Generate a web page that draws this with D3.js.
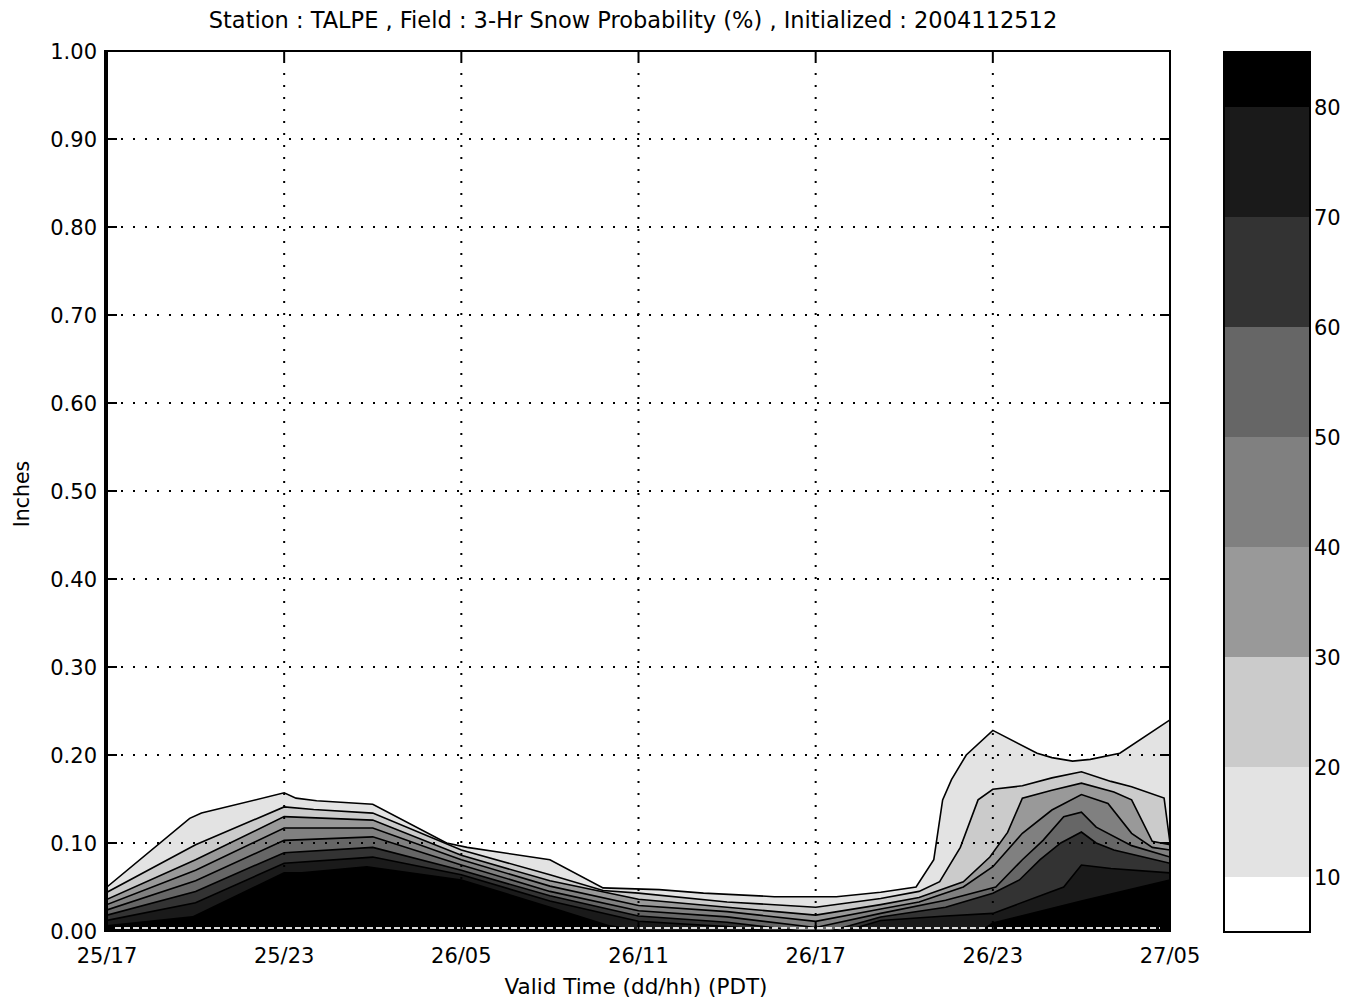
<!DOCTYPE html>
<html><head><meta charset="utf-8">
<script src="https://cdn.jsdelivr.net/npm/d3@7"></script>
<style>body{margin:0;background:#fff}svg{display:block}</style>
</head><body>
<svg id="c" width="1358" height="1000"></svg>
<script>
// ---- data ----
const titleText = "Station : TALPE , Field : 3-Hr Snow Probability (%) , Initialized : 2004112512";
const xTickHours = [0, 6, 12, 18, 24, 30, 36];
const xTickLabels = ["25/17", "25/23", "26/05", "26/11", "26/17", "26/23", "27/05"];
const yTicks = [0, 0.1, 0.2, 0.3, 0.4, 0.5, 0.6, 0.7, 0.8, 0.9, 1.0];
const levels = [10, 20, 30, 40, 50, 60, 70, 80];
const bandColors = ["#ffffff", "#e3e3e3", "#cbcbcb", "#999999", "#808080", "#666666", "#333333", "#1a1a1a", "#000000"];

// contour lines: [hours since 25/17, inches]
const p10 = [[0,.050],[2.8,.128],[3.2,.134],[6,.157],[6.4,.151],[7.1,.148],[9,.144],[11.5,.100],[12.2,.095],[15,.081],[16.8,.049],[18.7,.047],[20.2,.043],[22.6,.039],[24.7,.039],[26.2,.044],[27.4,.050],[28,.081],[28.3,.149],[28.6,.172],[29.1,.200],[30,.228],[31.5,.202],[32,.197],[32.7,.193],[33.3,.195],[34.3,.202],[36,.240]];
const p20 = [[0,.044],[3,.098],[6,.141],[7,.138],[9,.134],[12,.092],[15,.064],[16.8,.046],[18,.043],[21,.033],[24,.027],[26.2,.037],[27.5,.045],[28.2,.056],[28.9,.095],[29.5,.149],[30,.161],[31,.165],[32,.174],[33,.181],[34,.170],[34.7,.164],[35.8,.151],[36,.100]];
const p30 = [[0,.036],[3,.081],[6,.130],[9,.126],[12,.086],[15,.057],[18,.036],[21,.027],[24,.018],[26.2,.030],[27.5,.038],[29,.056],[29.9,.084],[30.5,.112],[31,.151],[32,.160],[33,.168],[34.1,.158],[34.7,.149],[35.4,.102],[36,.098]];
const p40 = [[0,.030],[3,.069],[6,.117],[9,.117],[12,.081],[15,.051],[18,.029],[21,.022],[24,.011],[26.2,.025],[27.5,.033],[29,.050],[30,.073],[31,.111],[32,.1375],[33,.155],[33.9,.145],[34.7,.111],[35.4,.095],[36,.092]];
const p50 = [[0,.024],[3,.057],[6,.103],[9,.107],[12,.075],[15,.045],[18,.023],[21,.016],[24,.004],[26.2,.020],[28.4,.035],[30.1,.050],[31,.081],[31.7,.103],[32.4,.130],[33,.135],[33.5,.118],[34.7,.097],[36,.084]];
const p60 = [[0,.018],[3,.045],[6,.089],[9,.095],[12,.069],[15,.040],[18,.017],[21,.010],[23.5,0],[24.5,0],[26.2,.016],[28.4,.027],[30,.043],[30.9,.058],[31.6,.081],[32.3,.100],[33,.1125],[33.5,.100],[34.1,.092],[36,.077]];
const p70 = [[0,.012],[3,.032],[6,.077],[9,.084],[12,.064],[15,.034],[18,.011],[21,.005],[22.5,0],[25,0],[26.2,.012],[28.4,.017],[30,.020],[32.4,.050],[33,.075],[34,.071],[36,.066]];
const p80 = [[0,.006],[2.9,.016],[6,.066],[6.6,.066],[8.8,.073],[12,.058],[15,.027],[17,.006],[18.2,0],[29.6,0],[30,.009],[33,.034],[36,.058]];
const contourLines = [p10, p20, p30, p40, p50, p60, p70, p80];

// ---- layout ----
const L = 107, R = 1170, T = 51, B = 931;
const svg = d3.select("#c");
const x = d3.scaleLinear([0, 36], [L, R]);
const y = d3.scaleLinear([0, 1], [B, T]);
const FONT = "DejaVu Sans";

svg.append("defs").append("clipPath").attr("id", "clip")
  .append("rect").attr("x", L).attr("y", T).attr("width", R - L).attr("height", B - T);

const plot = svg.append("g").attr("clip-path", "url(#clip)");
const area = d3.area().x(d => x(d[0])).y0(y(0)).y1(d => y(d[1]));
const line = d3.line().x(d => x(d[0])).y(d => y(d[1]));

contourLines.forEach((pts, i) => {
  plot.append("path").attr("d", area(pts)).attr("fill", bandColors[i + 1]);
});
contourLines.forEach(pts => {
  plot.append("path").attr("d", line(pts)).attr("fill", "none")
    .attr("stroke", "#000").attr("stroke-width", 1.6);
});

// white dashes along the zero row
plot.append("line").attr("x1", L + 8).attr("x2", R - 10)
  .attr("y1", y(0) - 3).attr("y2", y(0) - 3)
  .attr("stroke", "#fff").attr("stroke-width", 2).attr("stroke-dasharray", "6,3").attr("opacity", 0.85);

// dotted grid
const grid = svg.append("g").attr("stroke", "#000").attr("stroke-width", 2).attr("stroke-dasharray", "2,10");
xTickHours.slice(1, -1).forEach(h => {
  grid.append("line").attr("x1", x(h)).attr("x2", x(h)).attr("y1", T + 10).attr("y2", B);
});
yTicks.slice(1, -1).forEach(v => {
  grid.append("line").attr("x1", L + 14).attr("x2", R).attr("y1", y(v)).attr("y2", y(v));
});

// frame
svg.append("rect").attr("x", L - 1).attr("y", T).attr("width", R - L + 1).attr("height", B - T)
  .attr("fill", "none").attr("stroke", "#000").attr("stroke-width", 2);
svg.append("line").attr("x1", L - 1).attr("x2", L - 1).attr("y1", T - 1).attr("y2", B + 1)
  .attr("stroke", "#000").attr("stroke-width", 4);

// ticks
const tk = svg.append("g").attr("stroke", "#000").attr("stroke-width", 2);
yTicks.forEach(v => {
  tk.append("line").attr("x1", L).attr("x2", L + 10).attr("y1", y(v)).attr("y2", y(v));
  tk.append("line").attr("x1", R - 10).attr("x2", R).attr("y1", y(v)).attr("y2", y(v));
});
xTickHours.forEach(h => {
  tk.append("line").attr("x1", x(h)).attr("x2", x(h)).attr("y1", B).attr("y2", B - 10);
  tk.append("line").attr("x1", x(h)).attr("x2", x(h)).attr("y1", T).attr("y2", T + 10);
});

// tick labels
yTicks.forEach(v => {
  svg.append("text").attr("x", 97).attr("y", y(v)).attr("dy", "0.36em")
    .attr("text-anchor", "end").attr("font-family", FONT).attr("font-size", 21)
    .text(v.toFixed(2));
});
xTickHours.forEach((h, i) => {
  svg.append("text").attr("x", x(h)).attr("y", 963)
    .attr("text-anchor", "middle").attr("font-family", FONT).attr("font-size", 21)
    .text(xTickLabels[i]);
});

// titles
svg.append("text").attr("x", 633).attr("y", 28).attr("text-anchor", "middle")
  .attr("font-family", FONT).attr("font-size", 22.5).text(titleText);
svg.append("text").attr("x", 636).attr("y", 994).attr("text-anchor", "middle")
  .attr("font-family", FONT).attr("font-size", 21.5).text("Valid Time (dd/hh) (PDT)");
svg.append("text").attr("transform", "translate(29,494) rotate(-90)").attr("text-anchor", "middle")
  .attr("font-family", FONT).attr("font-size", 20.5).text("Inches");

// colorbar
const cbL = 1224, cbR = 1310;
const c = d3.scaleLinear([5, 85], [932, 52]);
const bandEdges = [5].concat(levels, [85]);
bandColors.forEach((col, i) => {
  svg.append("rect").attr("x", cbL).attr("width", cbR - cbL)
    .attr("y", c(bandEdges[i + 1])).attr("height", c(bandEdges[i]) - c(bandEdges[i + 1]))
    .attr("fill", col);
});
svg.append("rect").attr("x", cbL).attr("y", c(85)).attr("width", cbR - cbL).attr("height", c(5) - c(85))
  .attr("fill", "none").attr("stroke", "#000").attr("stroke-width", 2);
levels.forEach(v => {
  tk.append("line").attr("x1", cbL).attr("x2", cbL + 8).attr("y1", c(v)).attr("y2", c(v));
  tk.append("line").attr("x1", cbR - 8).attr("x2", cbR).attr("y1", c(v)).attr("y2", c(v));
  svg.append("text").attr("x", 1314).attr("y", c(v)).attr("dy", "0.36em")
    .attr("font-family", FONT).attr("font-size", 21).text(v);
});
</script>
</body></html>
